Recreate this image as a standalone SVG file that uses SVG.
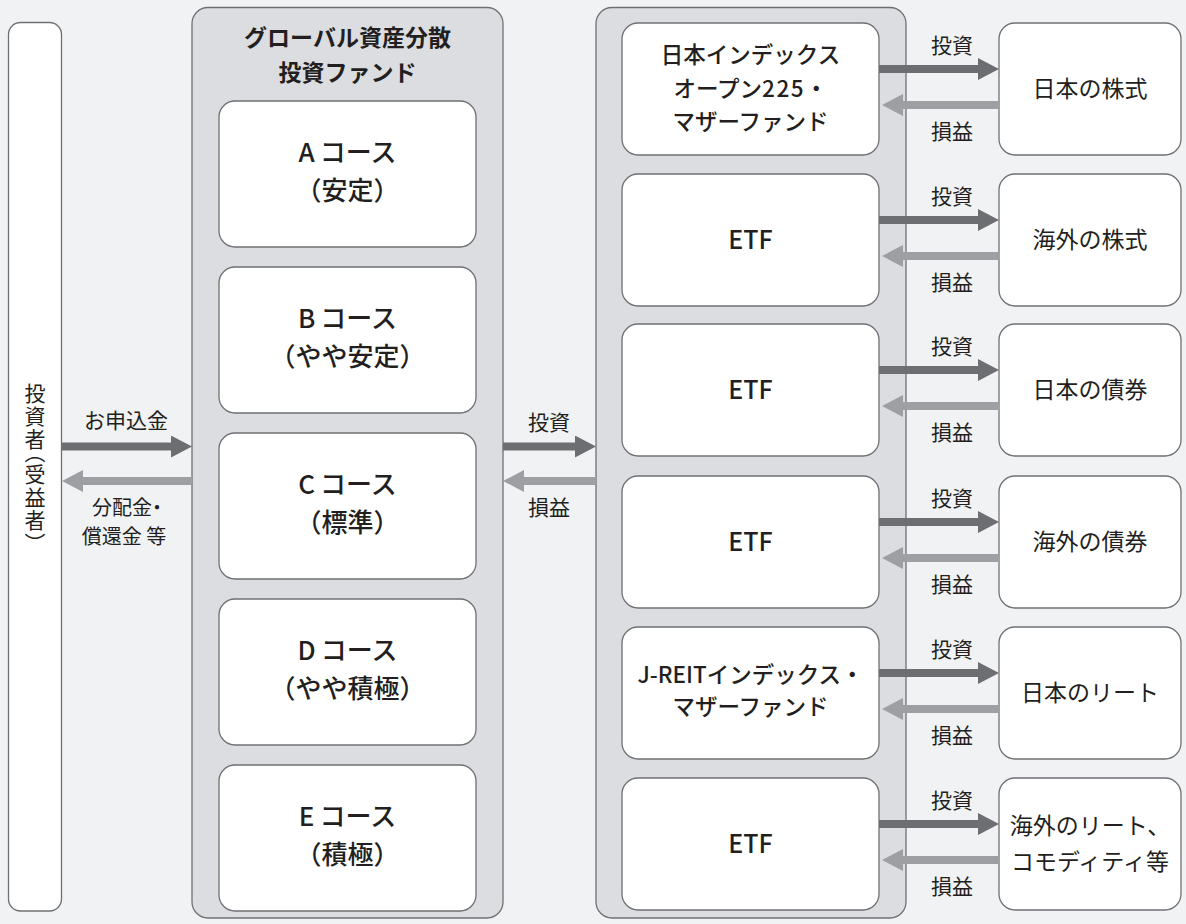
<svg xmlns="http://www.w3.org/2000/svg" width="1186" height="924" viewBox="0 0 1186 924">
<style>
text{font-family:"Noto Sans CJK JP","Noto Sans",sans-serif;fill:#231f20;text-anchor:middle}
.panel{fill:#dcdde0;stroke:#6f7073;stroke-width:1.3}
.box{fill:#fff;stroke:#6f7073;stroke-width:1.3}
.title{font-size:23px;font-weight:700}
.course{font-size:26px;font-weight:500}
.fund{font-size:22.5px;font-weight:500}
.etf{font-size:25px;font-weight:500}
.asset{font-size:23px;font-weight:400}
.lbl{font-size:21px;font-weight:400}
.sm{font-size:20px}
.palt{font-feature-settings:"palt"}
.dark{stroke:#6d6e71;stroke-width:8;marker-end:url(#hd)}
.light{stroke:#9d9fa2;stroke-width:8;marker-end:url(#hl)}
</style>
<defs>
<marker id="hd" markerUnits="userSpaceOnUse" markerWidth="21" markerHeight="22" refX="0" refY="11" orient="auto"><path d="M0,0 L21,11 L0,22 Z" fill="#6d6e71"/></marker>
<marker id="hl" markerUnits="userSpaceOnUse" markerWidth="21" markerHeight="22" refX="0" refY="11" orient="auto"><path d="M0,0 L21,11 L0,22 Z" fill="#9d9fa2"/></marker>
</defs>
<rect x="0" y="0" width="1186" height="924" fill="#f1f2f4"/>

<g id="investor">
<rect class="box" x="8.5" y="22.5" width="53" height="888.5" rx="12"/>
<text x="35" y="464" style="writing-mode:vertical-rl;font-size:21px;font-weight:400;letter-spacing:2px;font-feature-settings:'vpal'">投資者（受益者）</text>
</g>

<g id="fund-panel">
<rect class="panel" x="192" y="7.5" width="311" height="910.5" rx="16"/>
<text class="title" x="347.5" y="46">グローバル資産分散</text>
<text class="title" x="347.5" y="81">投資ファンド</text>
</g>
<g id="course-a"><rect class="box" x="219" y="101" width="257" height="146" rx="16"/>
<text class="course" x="347.5" y="162">A<tspan dx="5">コース</tspan></text><text class="course" x="347.5" y="200">（安定）</text></g>
<g id="course-b"><rect class="box" x="219" y="267" width="257" height="146" rx="16"/>
<text class="course" x="347.5" y="328">B<tspan dx="5">コース</tspan></text><text class="course" x="347.5" y="366">（やや安定）</text></g>
<g id="course-c"><rect class="box" x="219" y="433" width="257" height="146" rx="16"/>
<text class="course" x="347.5" y="494">C<tspan dx="5">コース</tspan></text><text class="course" x="347.5" y="532">（標準）</text></g>
<g id="course-d"><rect class="box" x="219" y="599" width="257" height="146" rx="16"/>
<text class="course" x="347.5" y="660">D<tspan dx="5">コース</tspan></text><text class="course" x="347.5" y="698">（やや積極）</text></g>
<g id="course-e"><rect class="box" x="219" y="765" width="257" height="146" rx="16"/>
<text class="course" x="347.5" y="826">E<tspan dx="5">コース</tspan></text><text class="course" x="347.5" y="864">（積極）</text></g>

<g id="mother-panel"><rect class="panel" x="596" y="7.5" width="310" height="910.5" rx="16"/></g>
<g id="fund-1"><rect class="box" x="622" y="23" width="257" height="132" rx="16"/>
<text class="fund" x="750.5" y="63">日本インデックス</text><text class="fund" x="750.5" y="97">オープン<tspan letter-spacing="1.5">225</tspan>・</text><text class="fund" x="750.5" y="130">マザーファンド</text></g>
<g id="fund-2"><rect class="box" x="622" y="174" width="257" height="132" rx="16"/>
<text class="etf" x="750.5" y="249">ETF</text></g>
<g id="fund-3"><rect class="box" x="622" y="324" width="257" height="132" rx="16"/>
<text class="etf" x="750.5" y="399">ETF</text></g>
<g id="fund-4"><rect class="box" x="622" y="476" width="257" height="132" rx="16"/>
<text class="etf" x="750.5" y="551">ETF</text></g>
<g id="fund-5"><rect class="box" x="622" y="627" width="257" height="132" rx="16"/>
<text class="fund" x="750.5" y="683">J-REITインデックス・</text><text class="fund" x="750.5" y="715">マザーファンド</text></g>
<g id="fund-6"><rect class="box" x="622" y="778" width="257" height="132" rx="16"/>
<text class="etf" x="750.5" y="853">ETF</text></g>

<g id="asset-1"><rect class="box" x="999" y="23" width="182" height="132" rx="16"/><text class="asset" x="1090" y="97">日本の株式</text></g>
<g id="asset-2"><rect class="box" x="999" y="174" width="182" height="132" rx="16"/><text class="asset" x="1090" y="248">海外の株式</text></g>
<g id="asset-3"><rect class="box" x="999" y="324" width="182" height="132" rx="16"/><text class="asset" x="1090" y="398">日本の債券</text></g>
<g id="asset-4"><rect class="box" x="999" y="476" width="182" height="132" rx="16"/><text class="asset" x="1090" y="550">海外の債券</text></g>
<g id="asset-5"><rect class="box" x="999" y="627" width="182" height="132" rx="16"/><text class="asset" x="1090" y="701">日本のリート</text></g>
<g id="asset-6"><rect class="box" x="999" y="778" width="182" height="132" rx="16"/><text class="asset" x="1090" y="834">海外のリート、</text><text class="asset" x="1090" y="870">コモディティ等</text></g>

<g id="connectors">
<line class="dark" x1="62" y1="446.5" x2="171" y2="446.5"/>
<line class="light" x1="192" y1="481" x2="83" y2="481"/>
<text class="lbl" x="126" y="428">お申込金</text>
<text class="lbl sm palt" x="127" y="515">分配金・</text>
<text class="lbl sm" x="124" y="544">償還金 等</text>
<line class="dark" x1="503" y1="446.5" x2="575" y2="446.5"/>
<line class="light" x1="596" y1="481" x2="524" y2="481"/>
<text class="lbl" x="549" y="430">投資</text>
<text class="lbl" x="549" y="515">損益</text>

<line class="dark" x1="879" y1="69" x2="978" y2="69"/>
<line class="light" x1="999" y1="105" x2="903" y2="105"/>
<text class="lbl" x="952" y="53">投資</text><text class="lbl" x="952" y="139">損益</text>
<line class="dark" x1="879" y1="220" x2="978" y2="220"/>
<line class="light" x1="999" y1="256" x2="903" y2="256"/>
<text class="lbl" x="952" y="204">投資</text><text class="lbl" x="952" y="290">損益</text>
<line class="dark" x1="879" y1="370" x2="978" y2="370"/>
<line class="light" x1="999" y1="406" x2="903" y2="406"/>
<text class="lbl" x="952" y="354">投資</text><text class="lbl" x="952" y="440">損益</text>
<line class="dark" x1="879" y1="522" x2="978" y2="522"/>
<line class="light" x1="999" y1="558" x2="903" y2="558"/>
<text class="lbl" x="952" y="506">投資</text><text class="lbl" x="952" y="592">損益</text>
<line class="dark" x1="879" y1="673" x2="978" y2="673"/>
<line class="light" x1="999" y1="709" x2="903" y2="709"/>
<text class="lbl" x="952" y="657">投資</text><text class="lbl" x="952" y="743">損益</text>
<line class="dark" x1="879" y1="824" x2="978" y2="824"/>
<line class="light" x1="999" y1="860" x2="903" y2="860"/>
<text class="lbl" x="952" y="808">投資</text><text class="lbl" x="952" y="894">損益</text>
</g>
</svg>
